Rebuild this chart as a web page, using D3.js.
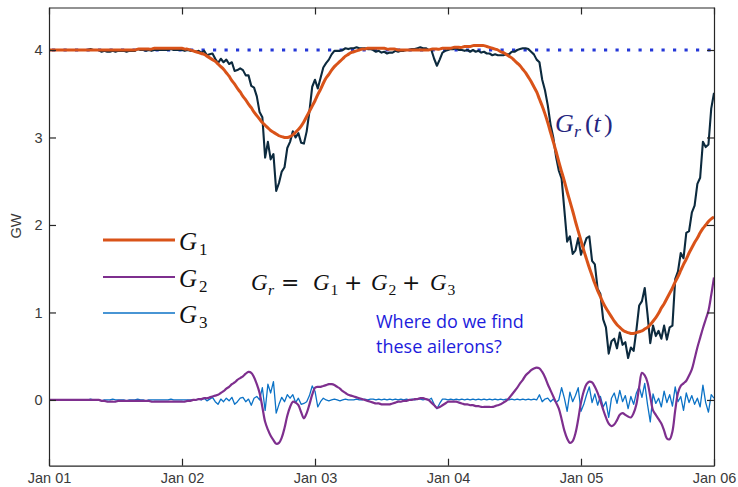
<!DOCTYPE html>
<html><head><meta charset="utf-8">
<script src="https://cdn.jsdelivr.net/npm/d3@7"></script>
<style>body{margin:0;background:#fff;} svg{display:block;} text{white-space:pre;}</style>
</head><body><svg id="c" width="738" height="487"></svg>
<script>
// ---------- data (half-hourly samples, GW) ----------
const dayLabels = ["Jan 01","Jan 02","Jan 03","Jan 04","Jan 05","Jan 06"];
const yTickValues = [0,1,2,3,4];
const ratedLevel = 4;           // dotted reference line
const stepMinutes = 30;
const seriesNames = ["G_1","G_2","G_3"];

const G1 = [
4.00,4.00,4.00,4.00,4.00,4.00,4.00,4.00,4.00,4.00,
4.00,4.00,4.00,4.00,4.00,4.00,4.00,4.00,4.00,4.00,
4.00,4.00,4.00,4.00,4.00,4.00,4.00,4.00,4.00,4.00,
4.00,4.00,4.01,4.01,4.01,4.01,4.01,4.01,4.02,4.02,
4.02,4.02,4.02,4.02,4.02,4.02,4.02,4.02,4.02,4.01,
4.01,4.00,3.99,3.98,3.97,3.96,3.95,3.93,3.91,3.89,
3.87,3.84,3.81,3.78,3.74,3.70,3.65,3.61,3.56,3.52,
3.47,3.43,3.38,3.34,3.29,3.25,3.21,3.17,3.14,3.11,
3.08,3.06,3.04,3.02,3.01,3.00,3.00,3.01,3.03,3.06,
3.09,3.13,3.18,3.24,3.30,3.36,3.42,3.49,3.55,3.62,
3.68,3.72,3.77,3.81,3.84,3.87,3.90,3.93,3.95,3.97,
3.98,3.99,4.00,4.01,4.01,4.02,4.02,4.02,4.02,4.02,
4.02,4.02,4.01,4.01,4.01,4.01,4.00,4.00,4.00,4.00,
4.00,4.00,4.00,4.00,4.00,4.00,4.00,4.00,4.01,4.01,
4.01,4.01,4.02,4.02,4.02,4.02,4.03,4.03,4.03,4.03,
4.04,4.04,4.04,4.05,4.05,4.05,4.05,4.05,4.04,4.03,
4.02,4.01,4.00,3.98,3.97,3.95,3.93,3.91,3.88,3.85,
3.82,3.78,3.74,3.69,3.64,3.58,3.52,3.44,3.36,3.27,
3.17,3.06,2.95,2.84,2.72,2.61,2.50,2.38,2.27,2.16,
2.04,1.93,1.82,1.71,1.61,1.51,1.42,1.33,1.25,1.18,
1.11,1.05,1.00,0.95,0.90,0.86,0.83,0.80,0.78,0.77,
0.76,0.76,0.77,0.78,0.79,0.81,0.83,0.86,0.90,0.94,
0.99,1.05,1.10,1.16,1.22,1.28,1.35,1.41,1.48,1.55,
1.61,1.68,1.74,1.80,1.85,1.91,1.96,2.00,2.04,2.07,
2.09];

const G2 = [
0,0,0,0,0,0,0,0,0,0,
0,0,0,0,0,0,0,0,0,-0.01,
-0.01,-0.02,-0.02,-0.02,-0.02,-0.01,-0.01,-0.01,-0.01,-0.01,
-0.01,-0.01,-0.01,-0.01,-0.01,-0.01,-0.01,-0.02,-0.02,-0.02,
-0.02,-0.02,-0.02,-0.02,-0.02,-0.02,-0.02,-0.02,-0.02,-0.02,
-0.01,-0.01,0.00,0.00,0.01,0.01,0.02,0.02,0.03,0.04,
0.05,0.06,0.08,0.10,0.13,0.15,0.18,0.20,0.23,0.25,
0.27,0.30,0.32,0.31,0.26,0.18,0.08,-0.08,-0.25,-0.34,
-0.41,-0.46,-0.50,-0.49,-0.43,-0.32,-0.18,-0.08,-0.02,-0.03,
-0.06,-0.14,-0.21,-0.15,-0.05,0.06,0.14,0.15,0.15,0.16,
0.17,0.18,0.18,0.17,0.15,0.13,0.10,0.08,0.06,0.05,
0.04,0.03,0.02,0.01,0.00,-0.01,-0.02,-0.03,-0.04,-0.04,
-0.05,-0.05,-0.05,-0.05,-0.04,-0.03,-0.02,-0.02,-0.01,-0.01,
0.00,0.00,0.01,0.01,0.02,0.02,0.01,0.00,-0.03,-0.06,
-0.09,-0.08,-0.06,-0.04,-0.02,-0.02,-0.02,-0.02,-0.03,-0.04,
-0.05,-0.05,-0.06,-0.06,-0.07,-0.07,-0.08,-0.08,-0.08,-0.08,
-0.08,-0.07,-0.06,-0.05,-0.03,-0.01,0.02,0.06,0.10,0.14,
0.19,0.23,0.28,0.31,0.34,0.36,0.37,0.36,0.32,0.26,
0.18,0.11,0.04,-0.03,-0.10,-0.22,-0.35,-0.44,-0.49,-0.47,
-0.38,-0.22,-0.03,0.10,0.18,0.21,0.20,0.15,0.08,-0.01,
-0.11,-0.20,-0.27,-0.30,-0.28,-0.23,-0.17,-0.15,-0.17,-0.19,
-0.20,-0.15,-0.05,0.15,0.31,0.28,0.20,0.04,-0.12,-0.17,
-0.22,-0.27,-0.35,-0.44,-0.45,-0.36,-0.12,0.08,0.16,0.19,
0.22,0.28,0.35,0.47,0.60,0.71,0.82,0.92,1.02,1.20,
1.40];

const G3 = [
0.00,0.00,0.00,0.00,0.00,0.00,0.00,0.00,0.00,0.00,
0.00,0.00,0.00,0.00,0.00,0.01,0.00,0.00,0.00,-0.01,
0.00,0.00,0.00,0.01,0.00,0.00,0.00,0.00,-0.01,0.00,
0.00,0.00,0.01,0.00,0.00,-0.01,0.00,0.00,0.00,0.00,
0.00,0.00,0.00,0.00,0.01,0.00,0.00,0.00,0.00,0.00,
0.00,0.00,0.00,0.00,0.01,0.00,0.02,-0.01,0.01,0.03,
-0.02,-0.05,0.01,-0.02,0.02,-0.01,0.03,-0.05,-0.02,0.02,
0.03,-0.02,0.01,-0.06,0.02,0.04,0.00,0.14,-0.12,0.18,
0.08,0.21,-0.15,-0.05,0.03,-0.02,0.06,0.02,0.06,-0.03,
0.02,-0.05,-0.04,-0.02,0.05,0.16,0.10,-0.08,-0.02,0.02,
0.00,-0.01,0.00,0.01,0.00,-0.01,0.00,0.01,0.00,0.00,
0.00,0.01,0.00,0.00,0.01,0.00,0.01,0.01,0.00,0.01,
0.00,0.01,0.00,0.01,0.00,0.01,0.00,0.01,0.00,0.01,
0.00,0.01,0.00,0.01,0.01,0.00,0.01,0.00,0.02,-0.05,
-0.10,-0.04,0.01,0.01,0.00,0.01,0.00,0.01,0.00,0.01,
0.00,0.01,0.00,0.01,0.00,0.01,0.00,0.01,0.00,0.01,
0.00,0.01,0.00,0.01,0.00,0.01,0.00,0.01,0.00,0.01,
0.00,0.01,0.00,0.01,0.00,0.01,0.00,0.06,-0.02,0.01,
0.02,-0.02,0.01,-0.03,0.00,0.14,0.02,-0.13,0.09,-0.02,
0.05,0.14,-0.13,-0.05,0.06,0.15,-0.03,0.07,-0.06,0.04,
-0.08,-0.02,-0.20,0.02,0.08,-0.04,0.11,-0.02,0.05,-0.10,
0.04,-0.05,0.08,0.15,0.03,0.19,-0.05,-0.25,0.07,-0.04,
0.02,-0.08,0.10,-0.03,0.06,-0.07,0.15,-0.02,0.04,-0.12,
0.08,-0.03,0.05,-0.05,0.02,-0.08,0.17,-0.03,-0.14,0.06,
0.02];

// G_r = G_1 + G_2 + G_3 (the decomposition stated in the chart)
const Gr = G1.map((v,i) => v + G2[i] + G3[i]);

// ---------- layout ----------
const W = 738, H = 487;
const m = {left:49, right:714, top:7.5, bottom:465.7};
const start = new Date(2000,0,1);
const end = new Date(2000,0,6);
const times = G1.map((_,i) => new Date(start.getTime() + i*stepMinutes*60000));
const dayTicks = dayLabels.map((_,i) => new Date(2000,0,1+i));

const x = d3.scaleTime().domain([start,end]).range([m.left,m.right]);
const y = d3.scaleLinear().domain([-0.7514,4.4857]).range([m.bottom,m.top]);

const svg = d3.select("#c");
svg.append("rect").attr("width",W).attr("height",H).attr("fill","#fff");

svg.append("defs").append("clipPath").attr("id","clip")
  .append("rect").attr("x",m.left).attr("y",m.top)
  .attr("width",m.right-m.left).attr("height",m.bottom-m.top);

const plot = svg.append("g").attr("clip-path","url(#clip)");

// dotted rated line
plot.append("line")
  .attr("x1",x(start)+3).attr("x2",x(end)).attr("y1",y(ratedLevel)).attr("y2",y(ratedLevel))
  .attr("stroke","#2538d8").attr("stroke-width",2.8)
  .attr("stroke-dasharray","3.2,8.3");

const mk = (arr, curve) => d3.line()
  .x((d,i)=>x(times[i])).y(d=>y(d)).curve(curve)(arr);

plot.append("path").attr("d",mk(Gr,d3.curveLinear))
  .attr("fill","none").attr("stroke","#0c2a3e").attr("stroke-width",2.1).attr("stroke-linejoin","round");
plot.append("path").attr("d",mk(G1,d3.curveCatmullRom))
  .attr("fill","none").attr("stroke","#d95319").attr("stroke-width",3);
plot.append("path").attr("d",mk(G3,d3.curveLinear))
  .attr("fill","none").attr("stroke","#0b72c6").attr("stroke-width",1.3).attr("stroke-linejoin","round");
plot.append("path").attr("d",mk(G2,d3.curveCatmullRom))
  .attr("fill","none").attr("stroke","#7e2f8e").attr("stroke-width",2.2);

// ---------- axes ----------
const axisColor = "#262626";
const labelFont = "'Liberation Sans', Arial, sans-serif";
const fmtDay = (d,i) => dayLabels[i];

function styleAxis(g){
  g.select(".domain").attr("stroke",axisColor).attr("stroke-width",1.2);
  g.selectAll(".tick line").attr("stroke",axisColor).attr("stroke-width",1.2);
  g.selectAll(".tick text").attr("fill","#3a3a3a").attr("font-family",labelFont).attr("font-size","14.5px");
}
svg.append("g").attr("transform",`translate(0,${m.bottom})`)
  .call(d3.axisBottom(x).tickValues(dayTicks).tickFormat(fmtDay).tickSizeInner(-7).tickSizeOuter(0).tickPadding(7.5))
  .call(styleAxis);
svg.append("g").attr("transform",`translate(0,${m.top})`)
  .call(d3.axisTop(x).tickValues(dayTicks).tickFormat("").tickSizeInner(-7).tickSizeOuter(0))
  .call(styleAxis);
svg.append("g").attr("transform",`translate(${m.left},0)`)
  .call(d3.axisLeft(y).tickValues(yTickValues).tickFormat(d3.format("d")).tickSizeInner(-7).tickSizeOuter(0).tickPadding(6.5))
  .call(styleAxis);
svg.append("g").attr("transform",`translate(${m.right},0)`)
  .call(d3.axisRight(y).tickValues(yTickValues).tickFormat("").tickSizeInner(-7).tickSizeOuter(0))
  .call(styleAxis);

svg.append("text").attr("transform","translate(21,226) rotate(-90)")
  .attr("text-anchor","middle").attr("font-family",labelFont).attr("font-size","14.5px")
  .attr("fill","#3a3a3a").text("GW");

// ---------- math text helper (each part placed at its own x) ----------
const serif = "'Liberation Serif', 'Times New Roman', serif";
const opFont = "'DejaVu Sans', sans-serif";
function mathText(py, size, parts, color){
  const t = svg.append("text").attr("y",py)
    .attr("font-family",serif).attr("font-size",size+"px").attr("fill",color);
  parts.forEach(p => {
    const s = t.append("tspan").attr("x",p.x).text(p.t);
    if (p.it) s.attr("font-style","italic");
    if (p.sub){ s.attr("y", py + size*0.2).attr("font-size",(size*0.68)+"px"); }
    else s.attr("y", py);
    if (p.op){ s.attr("font-family",opFont).attr("font-size",(size*0.95)+"px"); }
  });
  return t;
}

// legend
const legendColors = ["#d95319","#7e2f8e","#0b72c6"];
const legendWidths = [3,2.2,1.3];
const legendY = [240,277,313];
seriesNames.forEach((n,i) => {
  svg.append("line").attr("x1",103).attr("x2",175).attr("y1",legendY[i]).attr("y2",legendY[i])
    .attr("stroke",legendColors[i]).attr("stroke-width",legendWidths[i]);
  mathText(legendY[i]+10, 25, [{t:"G",it:true,x:179},{t:n.split("_")[1],sub:true,x:199}], "#111");
});

// equation  G_r = G_1 + G_2 + G_3
mathText(290, 23, [
  {t:"G",it:true,x:251},{t:"r",it:true,sub:true,x:268},{t:"=",op:true,x:281},
  {t:"G",it:true,x:313},{t:"1",sub:true,x:330.5},{t:"+",op:true,x:344},
  {t:"G",it:true,x:371},{t:"2",sub:true,x:388.5},{t:"+",op:true,x:402},
  {t:"G",it:true,x:430},{t:"3",sub:true,x:447.5}
], "#111");

// G_r(t) label
mathText(131.5, 26, [{t:"G",it:true,x:555},{t:"r",it:true,sub:true,x:574},{t:"(",x:585},{t:"t",it:true,x:593.5},{t:")",x:604}], "#262680");

// question (two separate lines)
const qFont = "'Open Sans', sans-serif";
svg.append("text").attr("font-family",qFont).attr("font-size","18px").attr("fill","#1c1cdc")
  .attr("x",376).attr("y",328).text("Where do we find");
svg.append("text").attr("font-family",qFont).attr("font-size","18px").attr("fill","#1c1cdc")
  .attr("x",376).attr("y",352.8).text("these ailerons?");
</script>
</body></html>
